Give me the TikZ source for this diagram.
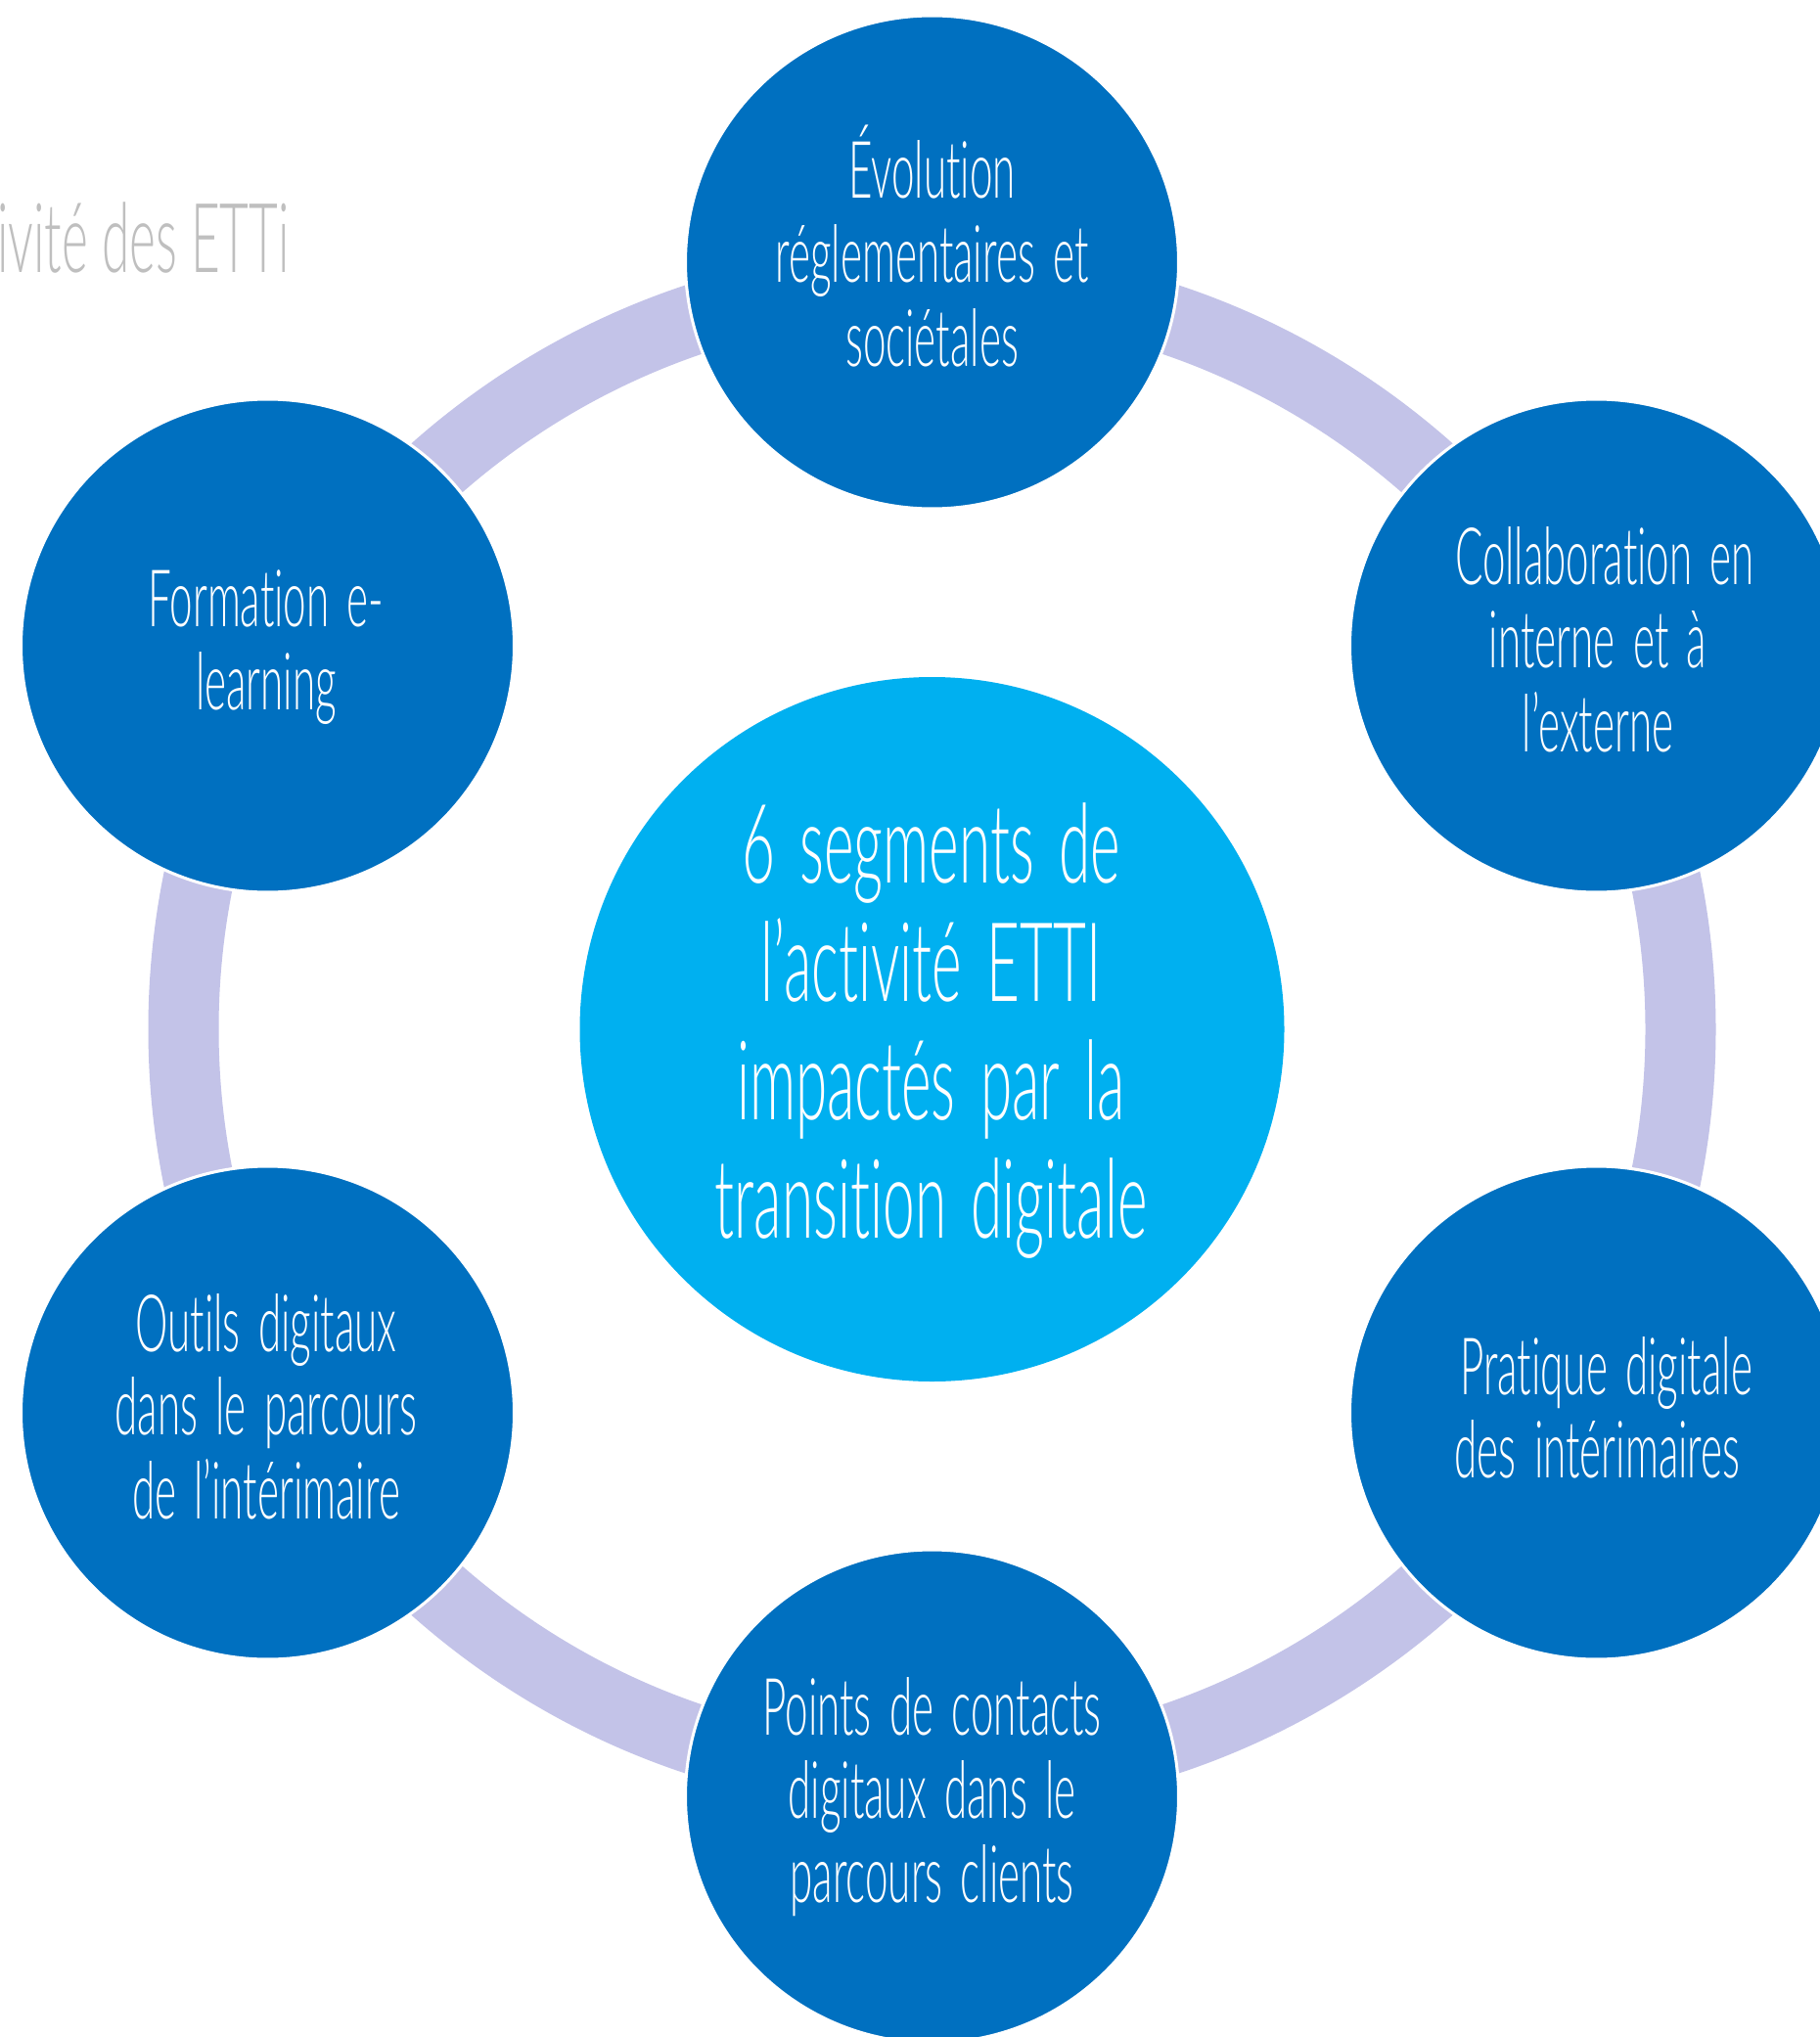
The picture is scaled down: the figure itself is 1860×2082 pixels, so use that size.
\documentclass[tikz,border=0pt]{standalone}
\usepackage{fontspec}
\IfFontExistsTF{Lato Light}%
  {\newfontfamily\thinfont{Lato Light}[FakeStretch=0.52,Ligatures=NoCommon,WordSpace=1.6]%
   \newfontfamily\titlefont{Lato Light}[FakeStretch=0.521,Ligatures=NoCommon,WordSpace=1.0]}%
  {\newfontfamily\thinfont{Lato}[FakeStretch=0.52,Ligatures=NoCommon,WordSpace=1.6]%
   \newfontfamily\titlefont{Lato}[FakeStretch=0.521,Ligatures=NoCommon,WordSpace=1.0]}
\newcommand\mlines[1]{\vtop{\halign{\hfil##\hfil\cr#1\crcr}}}
\definecolor{ringc}{HTML}{C3C3E8}
\definecolor{outerc}{HTML}{0070C0}
\definecolor{centerc}{HTML}{00B0F0}
\definecolor{grayt}{HTML}{BFBFBF}
\begin{document}
\begin{tikzpicture}[x=0.015cm,y=-0.015cm,
  outer/.style={circle, fill=outerc, draw=white, line width=1.3pt, minimum size={504*0.015cm}, inner sep=0pt},
  hub/.style={circle, fill=centerc, minimum size={720*0.015cm}, inner sep=0pt},
  ringshape/.style={circle, draw=ringc, line width={72*0.015cm}, minimum size={1530*0.015cm}, inner sep=0pt},
  otext/.style={text=white, font={\thinfont\fontsize{34.6}{36.5}\selectfont}, inner sep=0pt, anchor=base},
  ctext/.style={text=white, font={\thinfont\fontsize{48}{51.7}\selectfont}, inner sep=0pt, anchor=base},
  titletext/.style={text=grayt, font={\titlefont\fontsize{42.1}{46}\selectfont}, inner sep=0pt, anchor=base east}
]
\useasboundingbox (0,0) rectangle (1860,2082);
\clip (0,0) rectangle (1860,2082);
\fill[white] (0,0) rectangle (1860,2082);

\coordinate (O) at (952.5,1052);
\node[ringshape] (ring) at (O) {};

\node[titletext] (title) at (296,279) {tivité des ETTi};

\node[hub] (hubc) at (O) {};
\node[outer] (top) at (952.5,268) {};
\node[outer] (ur) at (1631.5,660) {};
\node[outer] (lr) at (1631.5,1444) {};
\node[outer] (bot) at (952.5,1836) {};
\node[outer] (ll) at (273.5,1444) {};
\node[outer] (ul) at (273.5,660) {};

\node[ctext] (hubt) at (951.5,902) {\mlines{6 segments de\cr l’activité ETTI\cr impactés par la\cr transition digitale}};

\node[otext] (topt) at (952.5,203) {\mlines{Évolution\cr réglementaires et\cr sociétales}};
\node[otext] (urt) at (1633,597) {\mlines{\kern6pt Collaboration en\cr interne et à\cr l’externe}};
\node[otext] (lrt) at (1632.5,1425) {\mlines{\kern7.7pt Pratique digitale\cr des intérimaires}};
\node[otext] (bott) at (952.5,1773) {\mlines{Points de contacts\cr digitaux dans le\cr parcours clients}};
\node[otext] (llt) at (272,1381) {\mlines{Outils digitaux\cr dans le parcours\cr de l’intérimaire}};
\node[otext] (ult) at (272,640) {\mlines{Formation e-\cr learning}};
\end{tikzpicture}
\end{document}
